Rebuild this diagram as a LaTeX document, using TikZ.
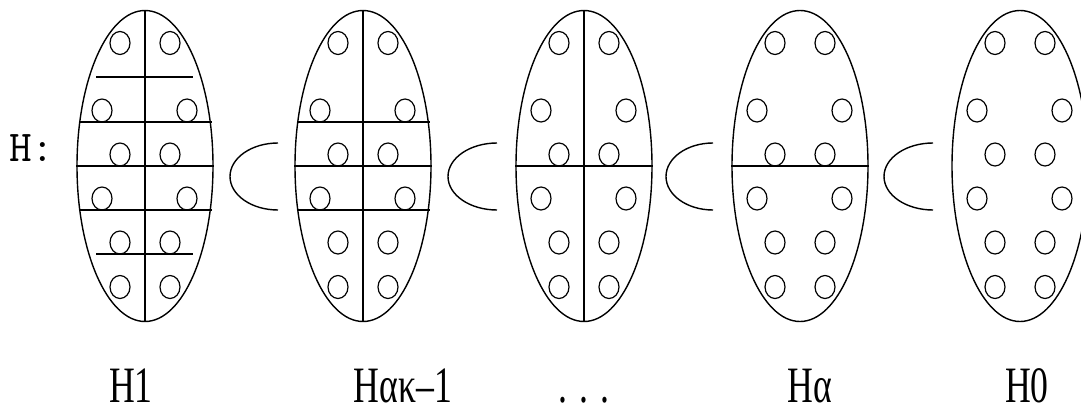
\documentclass[tikz,border=0pt]{standalone}
\usepackage{fontspec}
\setmainfont{Liberation Serif}
\newfontfamily\narrowserif[FakeStretch=0.7]{Liberation Serif}
\usetikzlibrary{shapes.geometric}
\tikzset{
  ell/.style={draw, ellipse, minimum width=136pt, minimum height=311pt, inner sep=0pt, line width=1.4pt},
  ring/.style={draw, ellipse, minimum width=20pt, minimum height=23pt, inner sep=0pt, line width=1.2pt},
  sep/.style={line width=1.6pt},
  subs/.style={line width=1.4pt},
  lab/.style={anchor=base, inner sep=0pt, font=\narrowserif\fontsize{51}{54}\selectfont},
}
\begin{document}
\begin{tikzpicture}[x=1pt, y=-1pt]
\useasboundingbox (0,0) rectangle (1081,412);
\clip (0,0) rectangle (1081,412);
% ellipses
\foreach \n/\c in {1/145, 2/363, 3/584, 4/800, 5/1020} {
  \node[ell] (E\n) at (\c,166) {};
  \foreach \r/\y/\a/\b in {1/43/-25/25, 2/110.5/-43/42, 3/154.5/-25/25, 4/198.5/-43/42, 5/242.5/-25/25, 6/287/-25/25} {
    \node[ring] (C\n-\r-l) at (\c+\a,\y) {};
    \node[ring] (C\n-\r-r) at (\c+\b,\y) {};
  }
}
% vertical partitions
\foreach \n in {1,2,3} \draw[sep] (E\n.north) -- (E\n.south);
% horizontal partitions
\draw[sep] (E1.west) -- (E1.east);
\draw[sep] (E2.west) -- (E2.east);
\draw[sep] (E3.west) -- (E3.east);
\draw[sep] (E4.west) -- (E4.east);
\foreach \c in {145, 363} {
  \draw[sep] (\c-65.5,122) -- (\c+66.5,122);
  \draw[sep] (\c-65.5,210) -- (\c+66.5,210);
}
\draw[sep] (96,77) -- (193,77);
\draw[sep] (96,254) -- (193,254);
% subset signs
\foreach \xe/\rx in {278/48, 497/49, 713/47, 933/49} {
  \draw[subs] (\xe,143) arc[start angle=90, end angle=270, x radius=\rx pt, y radius=33.5pt];
}
% labels
\node[anchor=base west, inner sep=0pt, font=\ttfamily\fontsize{44}{46}\selectfont] (Hlab) at (9,161) {H:};
\node[lab] (L1) at (131,402) {H1};
\node[lab] (L2) at (403,402) {Hακ–1};
\node[lab] (L3) at (584,402) {. . .};
\node[lab] (L4) at (810,402) {Hα};
\node[lab] (L5) at (1027,402) {H0};
\end{tikzpicture}
\end{document}
